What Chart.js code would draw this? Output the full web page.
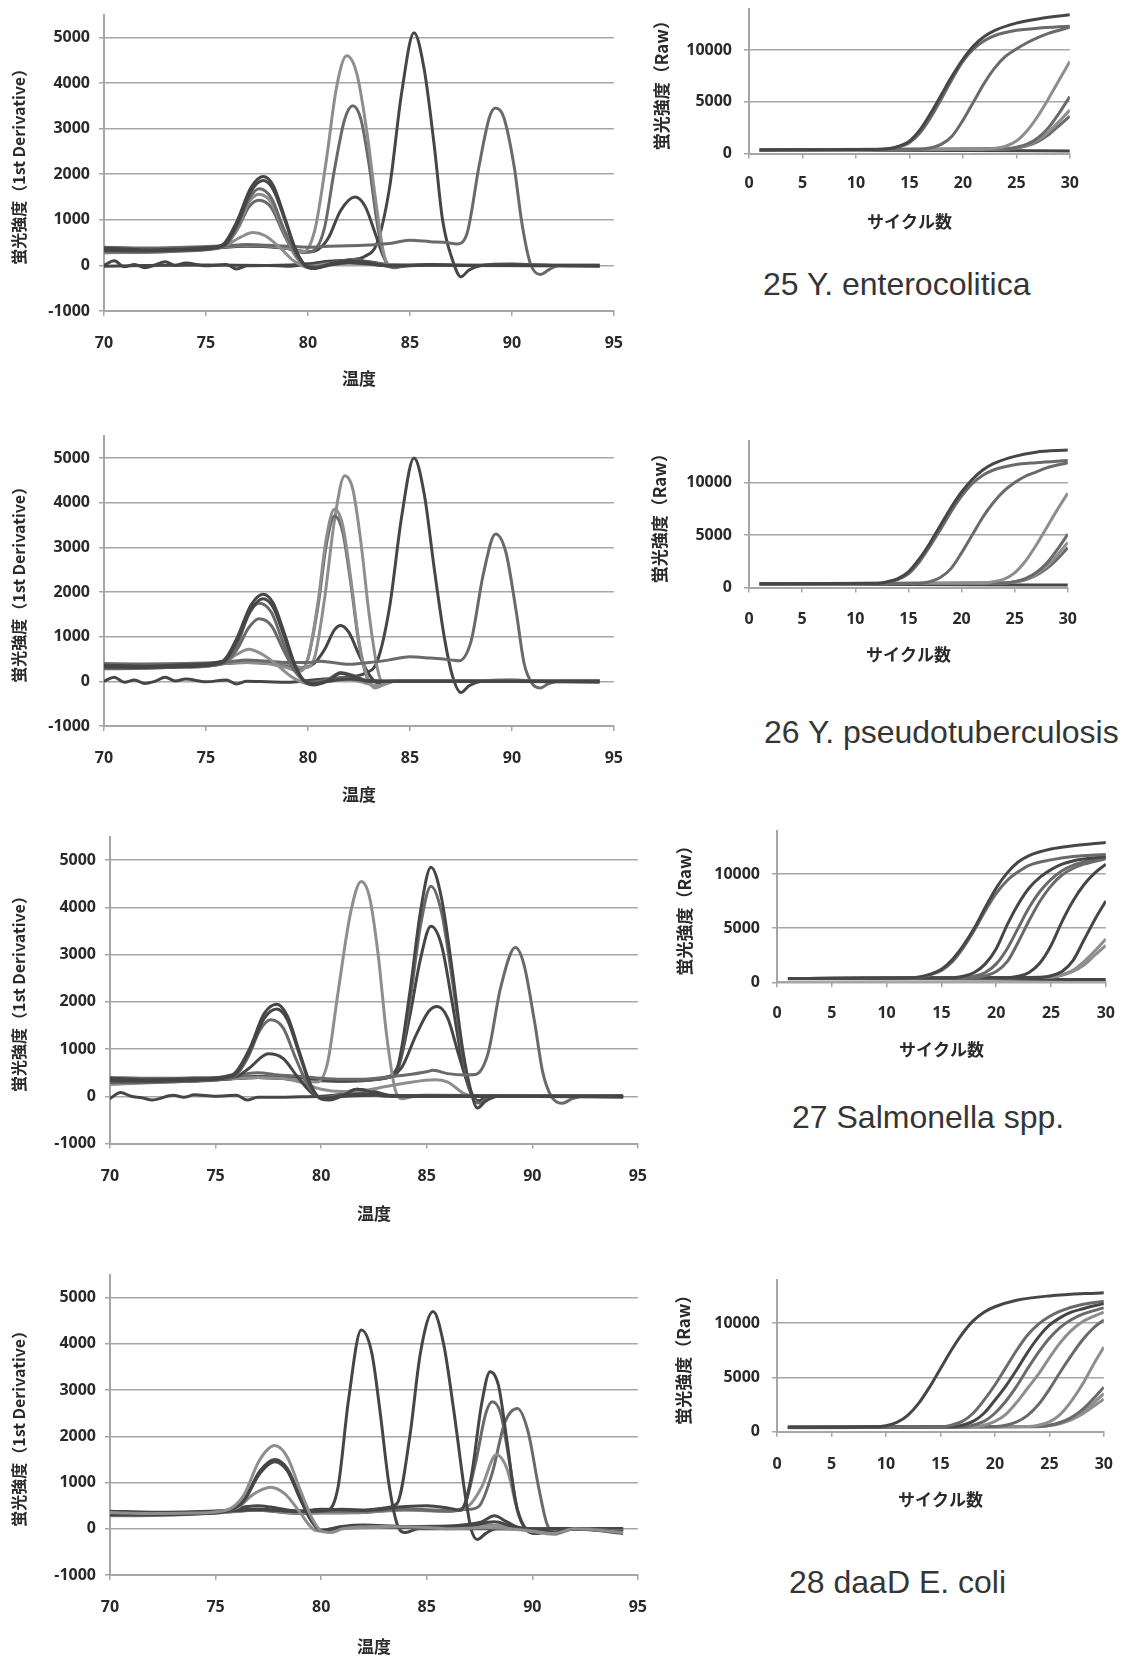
<!DOCTYPE html>
<html>
<head>
<meta charset="utf-8">
<script src="https://cdn.jsdelivr.net/npm/chart.js@4.4.0/dist/chart.umd.min.js"></script>
<style>
  body { margin: 0; background: #fff; width: 1139px; height: 1661px; position: relative; overflow: hidden; }
  canvas { position: absolute; }
  .cap { position: absolute; font-family: "Liberation Sans", Arial, sans-serif; font-size: 32px; line-height: 32px; color: #353535; white-space: nowrap; }
</style>
</head>
<body>
<canvas id="m25"></canvas><canvas id="a25"></canvas>
<canvas id="m26"></canvas><canvas id="a26"></canvas>
<canvas id="m27"></canvas><canvas id="a27"></canvas>
<canvas id="m28"></canvas><canvas id="a28"></canvas>
<div class="cap" style="left:763px;top:268px">25 Y. enterocolitica</div>
<div class="cap" style="left:764px;top:716px">26 Y. pseudotuberculosis</div>
<div class="cap" style="left:792px;top:1101px">27 Salmonella spp.</div>
<div class="cap" style="left:789px;top:1566px">28 daaD E. coli</div>
<script>
// axis ranges [min, max, step] and tick labels
const meltX = [70, 95, 5];
const meltY = [-1000, 5500];
const ampX = [0, 30, 5];
const ampY = [0, 14000];
const meltYTicks = [-1000, 0, 1000, 2000, 3000, 4000, 5000];
const ampYTicks = [0, 5000, 10000];

// ---- 25 Y. enterocolitica : melt curves [temp, 1st derivative]
const t25_a = [[70,380],[71,360],[72,340],[73,350],[74,360],[75,390],[75.8,450],[76.5,950],[77.2,1700],[77.8,1950],[78.3,1750],[78.9,1000],[79.4,350],[79.9,-20],[80.3,-70],[81,0],[82,60],[83,30],[84,0],[86,20],[88,0],[90,10],[92,0],[94.3,-20]];
const t25_b = [[70,330],[72,320],[74,340],[75.8,420],[76.5,880],[77.2,1620],[77.8,1860],[78.3,1660],[78.9,950],[79.4,320],[79.9,0],[80.4,-50],[81,20],[82,110],[83,60],[84,-20],[86,10],[90,0],[94.3,0]];
const t25_c = [[70,300],[72,290],[74,320],[75.8,400],[76.5,820],[77.1,1450],[77.6,1680],[78.2,1480],[78.8,820],[79.4,250],[80,-30],[80.6,-20],[81.5,80],[82.5,100],[83.5,0],[86,0],[94.3,-10]];
const t25_d = [[70,280],[72,300],[74,330],[75.8,400],[76.5,780],[77.1,1380],[77.6,1560],[78.2,1380],[78.8,760],[79.4,220],[80,-20],[81,40],[82,90],[83,40],[85,0],[94.3,0]];
const t25_e = [[70,340],[72,330],[74,350],[75.8,410],[76.5,760],[77.1,1280],[77.6,1430],[78.2,1270],[78.8,700],[79.4,200],[80,-40],[81,30],[82.2,130],[83.2,60],[85,0],[94.3,10]];
const t25_f = [[70,280],[73,300],[75,360],[76,450],[76.7,620],[77.3,720],[77.9,650],[78.6,400],[79.3,100],[80,-40],[80.6,0],[82,50],[84,0],[94.3,0]];
const t25_g = [[70,400],[72,380],[74,400],[76,430],[77,460],[78,440],[79,420],[80,400],[81,420],[82,430],[83,450],[84,480],[85,550],[86,520],[86.8,500],[87.3,470],[87.8,700],[88.4,2200],[88.9,3250],[89.2,3450],[89.6,3250],[90.1,2200],[90.5,900],[90.9,50],[91.4,-200],[91.8,-100],[92.3,0],[94.3,0]];
const t25_h = [[70,350],[74,380],[76,420],[77,450],[78,430],[79,380],[79.8,300],[80.1,450],[80.4,900],[80.9,2300],[81.4,3900],[81.9,4600],[82.4,4200],[82.9,2900],[83.3,1500],[83.7,300],[84,-30],[85,0],[94.3,0]];
const t25_i = [[70,330],[75,380],[77,430],[78,420],[79,370],[79.8,280],[80.3,330],[80.8,800],[81.3,2100],[81.8,3200],[82.2,3500],[82.6,3200],[83,2200],[83.4,900],[83.8,100],[84.2,-50],[85,0],[94.3,0]];
const t25_j = [[70,320],[75,370],[77,420],[78,410],[79,370],[80,300],[80.5,350],[81,600],[81.6,1200],[82.3,1500],[82.8,1300],[83.3,700],[83.7,200],[84,0],[85,0],[94.3,0]];
const t25_k = [[70,0],[70.5,100],[71,-30],[71.5,20],[72,-50],[72.5,10],[73,80],[73.5,0],[74,50],[75,-10],[76,20],[76.5,-80],[77,-10],[78,0],[79,-20],[80,30],[81,80],[82,120],[82.8,200],[83.4,500],[84,1700],[84.6,3800],[85.2,5100],[85.7,4300],[86.2,2600],[86.6,1000],[87.1,100],[87.5,-250],[87.9,-100],[88.5,0],[90,30],[92,0],[94.3,0]];
const t25_l = [[70,-20],[72,0],[75,10],[78,0],[80,30],[81,90],[82,110],[83,80],[84,10],[86,0],[90,0],[94.3,-10]];

// ---- 26 Y. pseudotuberculosis : melt curves
const t26_a = [[70,360],[72,340],[74,370],[75.8,450],[76.5,950],[77.2,1700],[77.8,1950],[78.3,1750],[78.9,1000],[79.4,330],[79.9,-30],[80.3,-80],[81,0],[82,50],[83,20],[84,0],[88,0],[94.3,-20]];
const t26_b = [[70,320],[72,310],[74,330],[75.8,420],[76.5,880],[77.2,1600],[77.8,1850],[78.3,1650],[78.9,920],[79.4,300],[79.9,-10],[80.4,-50],[81,20],[81.6,180],[82.3,100],[83,0],[94.3,0]];
const t26_c = [[70,300],[72,300],[74,320],[75.8,400],[76.5,800],[77.1,1500],[77.6,1750],[78.2,1550],[78.8,850],[79.4,250],[80,-30],[81,50],[81.6,200],[82.3,120],[83,0],[94.3,0]];
const t26_d = [[70,280],[72,290],[74,320],[75.8,390],[76.5,700],[77.1,1200],[77.6,1400],[78.2,1250],[78.8,700],[79.4,200],[80,-20],[81,30],[82,80],[83,0],[94.3,0]];
const t26_e = [[70,300],[73,320],[75,360],[76,450],[76.5,600],[77.1,720],[77.7,620],[78.4,400],[79.2,100],[80,-50],[81,0],[82,40],[83,-60],[83.5,-100],[84,0],[94.3,0]];
const t26_f = [[70,400],[72,390],[74,400],[76,430],[77,480],[78,450],[79,420],[80,420],[80.6,450],[81.2,420],[82,380],[83,420],[84,480],[85,550],[86,520],[87,480],[87.4,460],[88,900],[88.6,2400],[89.2,3300],[89.7,2900],[90.2,1600],[90.6,400],[91,-50],[91.4,-150],[91.8,-50],[92.5,0],[94.3,0]];
const t26_g = [[70,330],[75,380],[77,420],[78,400],[79,300],[79.6,220],[80,500],[80.5,1800],[80.9,3200],[81.3,3850],[81.7,3500],[82.1,2300],[82.5,900],[82.9,100],[83.3,-150],[83.7,-80],[84.3,0],[94.3,0]];
const t26_h = [[70,350],[75,390],[77,430],[78,410],[79,320],[79.6,240],[80,520],[80.5,1700],[80.9,3050],[81.3,3700],[81.7,3350],[82.1,2200],[82.5,850],[82.9,80],[83.3,-120],[83.8,-50],[84.3,0],[94.3,0]];
const t26_i = [[70,350],[75,390],[77,430],[78,420],[79,380],[79.8,300],[80.3,500],[80.8,1800],[81.3,3600],[81.8,4600],[82.2,4300],[82.6,3100],[83,1500],[83.4,300],[83.7,-50],[84.2,0],[94.3,0]];
const t26_j = [[70,320],[75,370],[77,420],[78,400],[79,360],[79.7,300],[80.3,400],[80.8,700],[81.3,1150],[81.6,1250],[82,1100],[82.5,600],[83,150],[83.4,-30],[84,0],[94.3,0]];
const t26_k = [[70,0],[70.5,90],[71,-20],[71.5,30],[72,-50],[72.5,0],[73,90],[73.5,10],[74,50],[75,-10],[76,30],[76.5,-60],[77,0],[78,-10],[79,-20],[80,20],[81,60],[82,100],[82.8,180],[83.4,450],[84,1650],[84.6,3700],[85.2,5000],[85.7,4200],[86.2,2500],[86.7,950],[87.1,100],[87.5,-250],[87.9,-100],[88.5,0],[90,30],[92,0],[94.3,0]];

// ---- 27 Salmonella spp. : melt curves
const t27_a = [[70,380],[72,350],[74,370],[75.8,460],[76.6,1000],[77.3,1750],[77.9,1950],[78.4,1700],[79,900],[79.5,250],[80,-60],[80.4,-80],[81,0],[82,50],[83,10],[85,0],[88,0],[94.3,-20]];
const t27_b = [[70,330],[72,320],[74,340],[75.8,430],[76.6,950],[77.3,1650],[77.9,1850],[78.4,1620],[79,850],[79.5,220],[80,-40],[81,20],[81.7,150],[82.5,80],[83.5,0],[94.3,0]];
const t27_c = [[70,300],[72,300],[74,320],[75.8,400],[76.5,800],[77.1,1400],[77.6,1620],[78.2,1450],[78.8,800],[79.4,220],[80,-30],[81,40],[82,60],[83,0],[94.3,0]];
const t27_d = [[70,300],[74,330],[76,420],[76.6,600],[77.5,900],[78.2,800],[78.9,400],[79.6,50],[80,-30],[81,0],[83,20],[85,0],[94.3,0]];
const t27_e = [[70,400],[72,380],[74,390],[76,420],[76.5,480],[77,500],[78,450],[79,420],[80,380],[81,360],[82,360],[83,400],[84,450],[85,520],[85.3,550],[86,480],[86.8,450],[87.3,460],[87.9,900],[88.5,2300],[89.2,3150],[89.6,2800],[90.1,1600],[90.5,500],[90.9,0],[91.4,-150],[91.9,-50],[92.5,0],[94.3,0]];
const t27_f = [[70,300],[74,330],[76,380],[77,400],[78,380],[79,340],[79.8,300],[80.3,700],[80.8,2200],[81.4,3900],[81.9,4550],[82.3,4200],[82.7,3000],[83.1,1300],[83.5,150],[83.8,-50],[84.5,0],[94.3,0]];
const t27_g = [[70,350],[74,370],[76,400],[77,420],[78,400],[79,370],[80,350],[81,330],[82,350],[83,400],[83.6,600],[84.2,2200],[84.7,3900],[85.2,4850],[85.7,4200],[86.2,2700],[86.7,1000],[87.1,100],[87.4,-250],[87.8,-100],[88.4,0],[94.3,0]];
const t27_h = [[70,320],[74,350],[76,390],[77,410],[78,390],[79,360],[80,340],[81,330],[82,340],[83,390],[83.6,580],[84.2,2000],[84.7,3600],[85.2,4450],[85.7,3900],[86.2,2500],[86.7,900],[87.1,80],[87.5,-150],[88,0],[94.3,0]];
const t27_i = [[70,300],[74,330],[76,380],[77,400],[78,380],[79,350],[80,330],[81,320],[82,330],[83,380],[83.6,550],[84.2,1700],[84.7,2900],[85.2,3600],[85.7,3200],[86.2,2000],[86.7,700],[87.1,50],[87.5,-100],[88,0],[94.3,0]];
const t27_j = [[70,300],[75,350],[77,400],[79,360],[81,330],[83,380],[83.8,600],[84.5,1300],[85.1,1800],[85.5,1900],[86,1650],[86.5,900],[87,200],[87.4,-100],[88,0],[94.3,0]];
const t27_k = [[70,250],[75,350],[77,420],[78,400],[79,300],[80,150],[81,100],[82,120],[83,200],[84,280],[85.4,350],[86,300],[86.8,50],[87.5,0],[94.3,0]];
const t27_l = [[70,-50],[70.5,80],[71,0],[71.5,-30],[72,-80],[73,20],[73.5,-20],[74,30],[75,0],[76,20],[76.5,-80],[77,-20],[78,-20],[79,-10],[80,0],[81,50],[81.7,150],[82.5,100],[83.5,0],[85,20],[94.3,0]];

// ---- 28 daaD E. coli : melt curves
const t28_a = [[70,350],[72,330],[74,340],[75.5,400],[76.3,700],[77.1,1500],[77.8,1800],[78.4,1550],[79,850],[79.6,200],[80,-50],[80.5,-80],[81,0],[83,50],[85,30],[86,0],[88,20],[90,-50],[91,-100],[92,0],[94.3,-80]];
const t28_b = [[70,300],[72,300],[74,320],[75.5,380],[76.3,600],[77.1,1250],[77.8,1500],[78.4,1300],[79,700],[79.6,150],[80,-30],[81,50],[82,80],[84,50],[86,60],[87,100],[87.6,150],[88.2,280],[88.8,150],[89.5,0],[90.5,-30],[91,-100],[92,0],[94.3,-100]];
const t28_c = [[70,330],[72,320],[74,330],[75.5,390],[76.3,580],[77.1,1200],[77.8,1450],[78.4,1250],[79,650],[79.6,120],[80,-40],[81,40],[82,60],[84,30],[86,40],[87,60],[88.2,150],[89,60],[90,-20],[91,-80],[92,0],[94.3,-60]];
const t28_d = [[70,280],[72,290],[74,320],[76,450],[76.8,750],[77.6,900],[78.3,750],[79,350],[79.6,0],[80,-50],[81,0],[83,30],[86,20],[88,80],[89,30],[90,-60],[91,-120],[92,0],[94.3,-50]];
const t28_e = [[70,380],[72,360],[74,370],[75.5,400],[76.5,480],[77,500],[77.6,470],[78.5,400],[79.5,380],[80.3,400],[80.8,900],[81.3,2800],[81.9,4300],[82.4,3800],[82.8,2500],[83.2,1000],[83.6,100],[84,-80],[84.6,0],[94.3,0]];
const t28_f = [[70,350],[74,360],[76,400],[77,420],[78,400],[79,380],[80,400],[81,420],[82,400],[83,450],[83.6,550],[84.2,2000],[84.7,3800],[85.3,4700],[85.8,4000],[86.3,2500],[86.8,800],[87.1,0],[87.4,-230],[87.8,-100],[88.3,0],[94.3,0]];
const t28_g = [[70,330],[75,370],[77,420],[78,400],[79,380],[80,420],[82,400],[84,480],[85,500],[86,450],[86.6,400],[87.1,1100],[87.6,2700],[88,3400],[88.4,3100],[88.8,1900],[89.2,600],[89.6,50],[90.2,-100],[90.8,0],[94.3,0]];
const t28_h = [[70,320],[75,360],[77,400],[79,370],[80,380],[82,380],[84,420],[86,380],[86.7,450],[87.3,1400],[87.8,2500],[88.1,2750],[88.5,2500],[88.9,1500],[89.3,400],[89.7,0],[90.3,-100],[91,0],[94.3,-50]];
const t28_i = [[70,300],[75,340],[77,400],[79,340],[80,350],[82,360],[84,400],[86,380],[87,500],[87.6,900],[88.3,1600],[88.8,1300],[89.3,400],[89.7,0],[90.3,-100],[91,0],[94.3,-50]];
const t28_j = [[70,300],[75,350],[77,400],[79,330],[80,340],[82,350],[84,420],[86,400],[87,420],[87.5,500],[88.1,1200],[88.7,2300],[89.3,2600],[89.8,2100],[90.3,900],[90.7,100],[91.1,-80],[91.6,0],[94.3,-50]];

// ---- amplification curves [cycle, raw fluorescence]
const c25_1 = [[1,350],[12,380],[13,450],[14,700],[15,1200],[16,2300],[17,3900],[18,5700],[19,7500],[20,9100],[21,10400],[22,11300],[23,11900],[25,12600],[27,13000],[30,13400]];
const c25_2 = [[1,350],[12,380],[13,430],[14,620],[15,1050],[16,2000],[17,3500],[18,5300],[19,7200],[20,8900],[21,10100],[22,10900],[23,11400],[25,11900],[27,12100],[30,12300]];
const c25_3 = [[1,350],[16,400],[17,550],[18,900],[19,1700],[20,3200],[21,5000],[22,6800],[23,8300],[24,9400],[25,10100],[26,10700],[27,11200],[28,11600],[30,12200]];
const c25_4 = [[1,350],[22,420],[23,500],[24,700],[25,1200],[26,2200],[27,3600],[28,5300],[29,7100],[30,8900]];
const c25_5 = [[1,350],[24,450],[25,600],[26,900],[27,1500],[28,2500],[29,3900],[30,5500]];
const c25_6 = [[1,330],[24,430],[25,550],[26,800],[27,1300],[28,2100],[29,3100],[30,4200]];
const c25_7 = [[1,330],[24,420],[25,520],[26,750],[27,1150],[28,1800],[29,2700],[30,3600]];
const c25_8 = [[1,350],[10,330],[20,300],[30,250]];

const c26_1 = [[1,350],[12,400],[13,550],[14,850],[15,1500],[16,2700],[17,4200],[18,5900],[19,7600],[20,9100],[21,10300],[22,11200],[23,11800],[25,12500],[27,12900],[30,13100]];
const c26_2 = [[1,350],[12,380],[13,480],[14,750],[15,1300],[16,2400],[17,3900],[18,5500],[19,7200],[20,8700],[21,9900],[22,10700],[23,11200],[25,11700],[27,11900],[30,12100]];
const c26_3 = [[1,350],[16,400],[17,550],[18,950],[19,1800],[20,3300],[21,5000],[22,6700],[23,8100],[24,9200],[25,10000],[26,10600],[27,11000],[28,11400],[30,11900]];
const c26_4 = [[1,350],[22,430],[23,550],[24,800],[25,1400],[26,2500],[27,4000],[28,5700],[29,7400],[30,9000]];
const c26_5 = [[1,330],[24,430],[25,560],[26,850],[27,1400],[28,2300],[29,3600],[30,5100]];
const c26_6 = [[1,330],[24,420],[25,540],[26,800],[27,1250],[28,2000],[29,3100],[30,4300]];
const c26_7 = [[1,320],[24,410],[25,520],[26,740],[27,1150],[28,1800],[29,2700],[30,3800]];
const c26_8 = [[1,320],[10,300],[20,270],[30,230]];

const c27_1 = [[1,350],[12,400],[13,500],[14,750],[15,1200],[16,2100],[17,3400],[18,5000],[19,6900],[20,8700],[21,10100],[22,11100],[23,11700],[25,12300],[27,12600],[30,12900]];
const c27_2 = [[1,350],[12,380],[13,460],[14,700],[15,1100],[16,1900],[17,3200],[18,4800],[19,6600],[20,8200],[21,9400],[22,10200],[23,10800],[25,11300],[27,11600],[30,11800]];
const c27_3 = [[1,350],[16,420],[17,560],[18,900],[19,1700],[20,3100],[21,5300],[22,7200],[23,8700],[24,9700],[25,10400],[26,10900],[27,11200],[30,11600]];
const c27_4 = [[1,350],[17,420],[18,560],[19,900],[20,1700],[21,3100],[22,5000],[23,6900],[24,8400],[25,9500],[26,10300],[27,10800],[28,11100],[30,11500]];
const c27_5 = [[1,350],[18,430],[19,600],[20,1000],[21,1900],[22,3700],[23,5700],[24,7500],[25,8900],[26,9900],[27,10500],[28,10900],[30,11400]];
const c27_6 = [[1,350],[21,430],[22,560],[23,900],[24,1800],[25,3400],[26,5600],[27,7500],[28,9000],[29,10100],[30,10900]];
const c27_7 = [[1,350],[24,450],[25,600],[26,1000],[27,2000],[28,3900],[29,5800],[30,7500]];
const c27_8 = [[1,330],[25,500],[26,700],[27,1100],[28,1900],[29,2900],[30,4000]];
const c27_9 = [[1,330],[25,480],[26,650],[27,1000],[28,1600],[29,2500],[30,3400]];
const c27_10 = [[1,350],[10,330],[20,300],[30,250]];

const c28_1 = [[1,400],[9,450],[10,550],[11,850],[12,1500],[13,2600],[14,4100],[15,5800],[16,7500],[17,9000],[18,10200],[19,11000],[20,11500],[22,12100],[25,12500],[30,12800]];
const c28_2 = [[1,400],[15,450],[16,600],[17,950],[18,1700],[19,2900],[20,4300],[21,5900],[22,7500],[23,8900],[24,9900],[25,10600],[26,11100],[28,11700],[30,12000]];
const c28_3 = [[1,400],[16,450],[17,600],[18,950],[19,1700],[20,2900],[21,4200],[22,5700],[23,7300],[24,8700],[25,9800],[26,10500],[27,11000],[28,11300],[30,11800]];
const c28_4 = [[1,400],[17,450],[18,600],[19,950],[20,1700],[21,2800],[22,4200],[23,5800],[24,7300],[25,8600],[26,9600],[27,10300],[28,10800],[30,11400]];
const c28_5 = [[1,400],[18,450],[19,600],[20,950],[21,1600],[22,2700],[23,4000],[24,5300],[25,6800],[26,8200],[27,9300],[28,10100],[29,10600],[30,11000]];
const c28_6 = [[1,400],[20,470],[21,600],[22,900],[23,1500],[24,2500],[25,3900],[26,5500],[27,7000],[28,8400],[29,9500],[30,10300]];
const c28_7 = [[1,400],[23,480],[24,600],[25,900],[26,1600],[27,2800],[28,4300],[29,6100],[30,7800]];
const c28_8 = [[1,380],[24,480],[25,600],[26,850],[27,1300],[28,2000],[29,3000],[30,4100]];
const c28_9 = [[1,380],[24,470],[25,580],[26,800],[27,1200],[28,1800],[29,2600],[30,3500]];
const c28_10 = [[1,370],[24,460],[25,560],[26,760],[27,1100],[28,1600],[29,2300],[30,3000]];

// grays
const D = '#464646', M = '#6a6a6a', L = '#8e8e8e';
const GRID = '#a6a6a6', TXT = '#2a2a2a';

const tickFont = {family: "'Open Sans', sans-serif", size: 16, weight: 'bold'};
const xTitleFont = {family: "'Noto Sans CJK JP', sans-serif", size: 17, weight: 'bold'};
const ampTitleFont = {family: "'Noto Sans CJK JP', sans-serif", size: 17, weight: 'bold'};
const meltTitleFont = {family: "'Noto Sans CJK JP', sans-serif", size: 16, weight: 'bold'};

function sets(list) {
  return list.map(([pts, col]) => ({
    data: pts.map(p => ({x: p[0], y: p[1]})),
    borderColor: col,
    borderWidth: 3,
    pointRadius: 0,
    fill: false,
    cubicInterpolationMode: 'monotone'
  }));
}

// g: page left of canvas, plot left/right/top/bottom on the page, x-scale height, title padding
function draw(id, g, list, xr, yr, yTicks, xTitle, yTitle, yFont) {
  const cv = document.getElementById(id);
  const t = Math.floor(g.top - 14);
  const w = Math.round(g.right - g.l + 14);
  const h = Math.round(g.bottom + g.xh - t);
  cv.width = w; cv.height = h;
  cv.style.left = g.l + 'px';
  cv.style.top = t + 'px';
  const xh = t + h - g.bottom;
  new Chart(cv, {
    type: 'line',
    data: {datasets: sets(list)},
    options: {
      responsive: false,
      animation: false,
      events: [],
      layout: {padding: {top: g.top - t, right: 14, left: 0, bottom: 0}},
      plugins: {legend: {display: false}, tooltip: {enabled: false}},
      scales: {
        x: {
          type: 'linear', min: xr[0], max: xr[1],
          ticks: {stepSize: xr[2], padding: g.xp, color: TXT, font: tickFont, maxRotation: 0, callback: v => String(v)},
          grid: {drawOnChartArea: false, tickLength: 5, color: GRID, lineWidth: 1.5},
          border: {color: GRID, width: 2},
          title: {display: true, text: xTitle, color: TXT, font: xTitleFont, padding: 0},
          afterFit: s => { s.height = xh; }
        },
        y: {
          min: yr[0], max: yr[1],
          afterBuildTicks: s => { s.ticks = yTicks.map(v => ({value: v})); },
          ticks: {padding: g.yp, color: TXT, font: tickFont, callback: v => String(v)},
          grid: {tickLength: 5, color: GRID, lineWidth: 1.5},
          border: {color: GRID, width: 2},
          title: {display: true, text: yTitle, color: TXT, font: yFont, padding: {top: g.tp, bottom: 0}},
          afterFit: s => { s.width = g.left - g.l; }
        }
      }
    }
  });
}

const meltYT = '蛍光強度（1st Derivative）';
const ampYT = '蛍光強度（Raw）';

draw('m25', {l: 0, left: 104, right: 627, top: 10.2, bottom: 311, xh: 77.5, tp: 8.9, xp: 18, yp: 9},
  [[t25_a, D], [t25_b, D], [t25_c, M], [t25_d, L], [t25_e, M], [t25_f, L], [t25_g, M], [t25_h, L], [t25_i, M], [t25_j, D], [t25_k, D], [t25_l, D]],
  meltX, meltY, meltYTicks, '温度', meltYT, meltTitleFont);
draw('m26', {l: 0, left: 104, right: 627, top: 431.3, bottom: 726, xh: 78.5, tp: 8.9, xp: 18, yp: 9},
  [[t26_a, D], [t26_b, D], [t26_c, M], [t26_d, M], [t26_e, L], [t26_f, M], [t26_g, L], [t26_h, M], [t26_i, L], [t26_j, D], [t26_k, D]],
  meltX, meltY, meltYTicks, '温度', meltYT, meltTitleFont);
draw('m27', {l: 0, left: 110, right: 651, top: 832, bottom: 1143.5, xh: 80, tp: 9.4, xp: 18, yp: 9},
  [[t27_a, D], [t27_b, D], [t27_c, M], [t27_d, D], [t27_e, M], [t27_f, L], [t27_g, D], [t27_h, M], [t27_i, D], [t27_j, D], [t27_k, L], [t27_l, D]],
  meltX, meltY, meltYTicks, '温度', meltYT, meltTitleFont);
draw('m28', {l: 0, left: 110, right: 651, top: 1270.6, bottom: 1575, xh: 81.5, tp: 9.4, xp: 18, yp: 9},
  [[t28_a, L], [t28_b, D], [t28_c, D], [t28_d, L], [t28_e, D], [t28_f, D], [t28_g, D], [t28_h, M], [t28_i, L], [t28_j, M]],
  meltX, meltY, meltYTicks, '温度', meltYT, meltTitleFont);

draw('a25', {l: 640, left: 749, right: 1080, top: 1.6, bottom: 153.5, xh: 78.4, tp: 11.5, xp: 15, yp: 12},
  [[c25_1, D], [c25_2, M], [c25_3, M], [c25_4, L], [c25_5, M], [c25_6, L], [c25_7, M], [c25_8, D]],
  ampX, ampY, ampYTicks, 'サイクル数', ampYT, ampTitleFont);
draw('a26', {l: 640, left: 749, right: 1080, top: 433.5, bottom: 587.5, xh: 77.7, tp: 9.8, xp: 17, yp: 12},
  [[c26_1, D], [c26_2, M], [c26_3, M], [c26_4, L], [c26_5, M], [c26_6, L], [c26_7, M], [c26_8, D]],
  ampX, ampY, ampYTicks, 'サイクル数', ampYT, ampTitleFont);
draw('a27', {l: 660, left: 777, right: 1118, top: 823.7, bottom: 982.3, xh: 77.9, tp: 14.8, xp: 17, yp: 12},
  [[c27_1, D], [c27_2, M], [c27_3, D], [c27_4, M], [c27_5, M], [c27_6, D], [c27_7, D], [c27_8, L], [c27_9, L], [c27_10, D]],
  ampX, ampY, ampYTicks, 'サイクル数', ampYT, ampTitleFont);
draw('a28', {l: 660, left: 777, right: 1117, top: 1272, bottom: 1431.7, xh: 78.6, tp: 13.1, xp: 18, yp: 12},
  [[c28_1, D], [c28_2, M], [c28_3, D], [c28_4, M], [c28_5, L], [c28_6, M], [c28_7, L], [c28_8, M], [c28_9, L], [c28_10, L]],
  ampX, ampY, ampYTicks, 'サイクル数', ampYT, ampTitleFont);
</script>
</body>
</html>
